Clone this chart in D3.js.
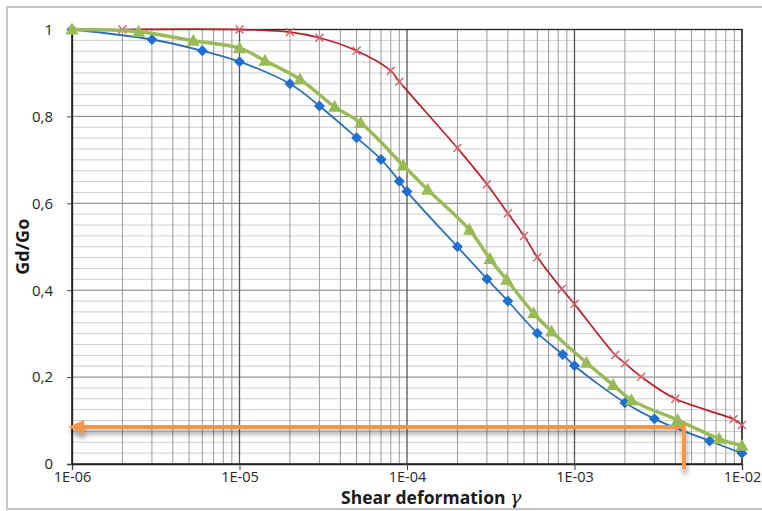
<!DOCTYPE html>
<html>
<head>
<meta charset="utf-8">
<script src="https://cdn.jsdelivr.net/npm/d3@7"></script>
<style>
  body { margin: 0; background: #fff; }
  svg { display: block; font-family: "Open Sans", sans-serif; }
</style>
</head>
<body>
<script>
// data (gamma, Gd/Go)
var blueGamma = [1e-6, 3e-6, 6e-6, 1e-5, 2e-5, 3e-5, 5e-5, 7e-5, 9e-5, 1e-4, 2e-4, 3e-4, 4e-4, 6e-4, 8.5e-4, 1e-3, 2e-3, 3e-3, 6.4e-3, 1e-2];
var blueValue = [1.0, 0.977, 0.951, 0.926, 0.875, 0.824, 0.751, 0.701, 0.651, 0.627, 0.500, 0.426, 0.375, 0.301, 0.252, 0.226, 0.141, 0.104, 0.053, 0.025];

var greenGamma = [1e-6, 2.5e-6, 5.3e-6, 1e-5, 1.42e-5, 2.3e-5, 3.7e-5, 5.3e-5, 9.5e-5, 1.33e-4, 2.36e-4, 3.13e-4, 3.94e-4, 5.7e-4, 7.3e-4, 1.18e-3, 1.7e-3, 2.19e-3, 4.13e-3, 7.3e-3, 1e-2];
var greenValue = [1.0, 0.995, 0.974, 0.957, 0.928, 0.885, 0.822, 0.785, 0.687, 0.631, 0.539, 0.472, 0.424, 0.347, 0.305, 0.233, 0.182, 0.147, 0.101, 0.058, 0.042];

var redGamma = [2e-6, 1e-5, 2e-5, 3e-5, 5e-5, 8e-5, 9e-5, 2e-4, 3e-4, 4e-4, 5e-4, 6e-4, 8.4e-4, 1e-3, 1.75e-3, 2e-3, 2.5e-3, 4e-3, 8.9e-3, 1e-2];
var redValue = [1.0, 1.0, 0.994, 0.981, 0.951, 0.905, 0.880, 0.727, 0.644, 0.577, 0.525, 0.476, 0.403, 0.368, 0.251, 0.232, 0.201, 0.150, 0.103, 0.090];

var xTicks = [1e-6, 1e-5, 1e-4, 1e-3, 1e-2];
var xTickLabels = ["1E-06", "1E-05", "1E-04", "1E-03", "1E-02"];
var yTicks = [0, 0.2, 0.4, 0.6, 0.8, 1];
var yTickLabels = ["0", "0,2", "0,4", "0,6", "0,8", "1"];

// orange reading arrow
var arrowGamma = 4.5e-3;
var arrowValue = 0.085;

var width = 762, height = 511;

var svg = d3.select("body").append("svg")
    .attr("width", width)
    .attr("height", height);

var defs = svg.append("defs");
var shadow = defs.append("filter").attr("id", "shadow")
    .attr("x", "-10%").attr("y", "-50%").attr("width", "120%").attr("height", "200%");
shadow.append("feGaussianBlur").attr("in", "SourceAlpha").attr("stdDeviation", 2.5);
shadow.append("feOffset").attr("dx", 1).attr("dy", 5).attr("result", "off");
shadow.append("feComponentTransfer").append("feFuncA").attr("type", "linear").attr("slope", 0.4);
var merge = shadow.append("feMerge");
merge.append("feMergeNode");
merge.append("feMergeNode").attr("in", "SourceGraphic");

// outer chart border
svg.append("rect")
    .attr("x", 7).attr("y", 7)
    .attr("width", 760).attr("height", 502)
    .attr("fill", "none")
    .attr("stroke", "#c6c6c6")
    .attr("stroke-width", 2);

var x = d3.scaleLog().domain([1e-6, 1e-2]).range([72, 742]);
var y = d3.scaleLinear().domain([0, 1]).range([464, 29.5]);

var grid = svg.append("g");

// horizontal grid
var hMinor = d3.range(0, 1.0001, 0.025);
grid.selectAll(".hmin")
    .data(hMinor)
    .enter().append("line")
    .attr("x1", x(1e-6)).attr("x2", x(1e-2))
    .attr("y1", function(d) { return y(d); })
    .attr("y2", function(d) { return y(d); })
    .attr("stroke", function(d) {
        return Math.abs(d * 5 - Math.round(d * 5)) < 1e-6 ? "#7f7f7f" : "#cfcfcf";
    })
    .attr("stroke-width", 1);

// vertical grid (log minor + decades)
var vLines = [];
for (var e = -6; e < -2; e++) {
    for (var m = 2; m <= 9; m++) vLines.push(m * Math.pow(10, e));
}
grid.selectAll(".vmin")
    .data(vLines)
    .enter().append("line")
    .attr("x1", function(d) { return x(d); })
    .attr("x2", function(d) { return x(d); })
    .attr("y1", y(1)).attr("y2", y(0))
    .attr("stroke", "#9a9a9a")
    .attr("stroke-width", 1);
grid.selectAll(".vmaj")
    .data(xTicks)
    .enter().append("line")
    .attr("x1", function(d) { return x(d); })
    .attr("x2", function(d) { return x(d); })
    .attr("y1", y(1)).attr("y2", y(0))
    .attr("stroke", "#555")
    .attr("stroke-width", 1.3);

// plot frame
svg.append("rect")
    .attr("x", x(1e-6)).attr("y", y(1))
    .attr("width", x(1e-2) - x(1e-6)).attr("height", y(0) - y(1))
    .attr("fill", "none")
    .attr("stroke", "#222")
    .attr("stroke-width", 1.3);

// axes
var xAxis = svg.append("g")
    .attr("transform", "translate(0," + y(0) + ")")
    .call(d3.axisBottom(x).tickValues(xTicks)
        .tickFormat(function(d, i) { return xTickLabels[i]; })
        .tickSize(6).tickPadding(2));
var yAxis = svg.append("g")
    .attr("transform", "translate(" + x(1e-6) + ",0)")
    .call(d3.axisLeft(y).tickValues(yTicks)
        .tickFormat(function(d, i) { return yTickLabels[i]; })
        .tickSize(5).tickPadding(14));
[xAxis, yAxis].forEach(function(a) {
    a.select(".domain").attr("stroke", "#222").attr("stroke-width", 1.3);
    a.selectAll(".tick line").attr("stroke", "#444");
    a.selectAll(".tick text")
        .attr("fill", "#262626")
        .style("font-size", "14.5px")
        .style("font-family", "'Open Sans', sans-serif");
});
yAxis.selectAll(".tick text").style("font-size", "15px");

// axis titles
svg.append("text")
    .attr("transform", "translate(29," + y(0.5) + ") rotate(-90)")
    .attr("text-anchor", "middle")
    .style("font-size", "18px")
    .style("font-weight", "bold")
    .attr("fill", "#1a1a1a")
    .text("Gd/Go");
var xt = svg.append("text")
    .attr("x", 341).attr("y", 504)
    .style("font-size", "17.5px")
    .style("font-weight", "bold")
    .attr("fill", "#1a1a1a");
xt.append("tspan").text("Shear deformation ");
xt.append("tspan")
    .style("font-family", "'DejaVu Serif', serif")
    .style("font-style", "italic")
    .style("font-weight", "normal")
    .style("font-size", "19px")
    .text("\u03b3");

// series
var line = d3.line()
    .x(function(d) { return x(d[0]); })
    .y(function(d) { return y(d[1]); })
    .curve(d3.curveCatmullRom.alpha(0.5));

function pairs(gs, vs) { return gs.map(function(g, i) { return [g, vs[i]]; }); }
var redData = pairs(redGamma, redValue);
var greenData = pairs(greenGamma, greenValue);
var blueData = pairs(blueGamma, blueValue);

svg.append("path").datum(redData).attr("d", line)
    .attr("fill", "none").attr("stroke", "#b71f2e").attr("stroke-width", 1.7);
svg.selectAll(".red-x")
    .data(redData)
    .enter().append("path")
    .attr("class", "red-x")
    .attr("transform", function(d) { return "translate(" + x(d[0]) + "," + y(d[1]) + ")"; })
    .attr("d", "M-4,-4L4,4M-4,4L4,-4")
    .attr("stroke", "#d0606a")
    .attr("stroke-width", 1.4);

svg.append("path").datum(blueData).attr("d", line)
    .attr("fill", "none").attr("stroke", "#2d70b6").attr("stroke-width", 1.8);
svg.selectAll(".blue-d")
    .data(blueData)
    .enter().append("path")
    .attr("class", "blue-d")
    .attr("transform", function(d) { return "translate(" + x(d[0]) + "," + y(d[1]) + ")"; })
    .attr("d", "M0,-5.5L5.5,0L0,5.5L-5.5,0Z")
    .attr("fill", "#1f6fd1");

svg.append("path").datum(greenData).attr("d", line)
    .attr("fill", "none").attr("stroke", "#9bbb59").attr("stroke-width", 3.5);
svg.selectAll(".green-t")
    .data(greenData)
    .enter().append("path")
    .attr("class", "green-t")
    .attr("transform", function(d) { return "translate(" + x(d[0]) + "," + y(d[1]) + ")"; })
    .attr("d", "M0,-7L6.5,5L-6.5,5Z")
    .attr("fill", "#98bb55");

// orange arrow
var ay = y(arrowValue), ax = x(arrowGamma);
var arrow = svg.append("g").attr("filter", "url(#shadow)");
arrow.append("path")
    .attr("d", "M" + ax + "," + (y(0) + 5) + "L" + ax + "," + ay + "L" + (x(1e-6) + 10) + "," + ay)
    .attr("fill", "none")
    .attr("stroke", "#f79646")
    .attr("stroke-width", 4)
    .attr("stroke-linejoin", "miter");
arrow.append("path")
    .attr("d", "M" + (x(1e-6) - 4) + "," + ay + "L" + (x(1e-6) + 12) + "," + (ay - 7) +
        "L" + (x(1e-6) + 12) + "," + (ay + 7) + "Z")
    .attr("fill", "#f79646");
</script>
</body>
</html>
